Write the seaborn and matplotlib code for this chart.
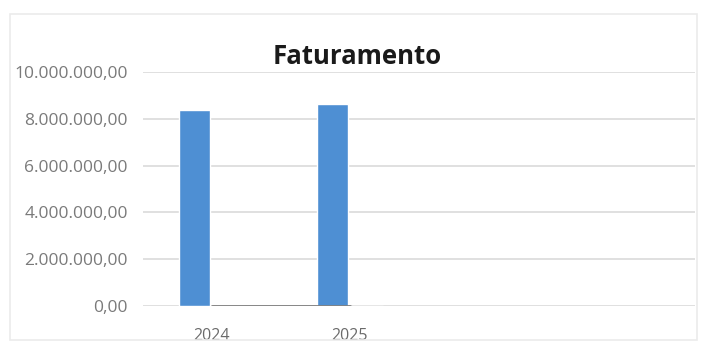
import numpy as np
import pandas as pd
import matplotlib
matplotlib.use("Agg")
import matplotlib.pyplot as plt
import seaborn as sns
from matplotlib.ticker import FuncFormatter, FixedLocator

# Data
categories = ["2024", "2025", " ", "  "]
faturamento = [8385000, 8630000, np.nan, np.nan]
serie2 = [0, 0, np.nan, np.nan]
serie3 = [0, 0]
y_ticks = [0, 2_000_000, 4_000_000, 6_000_000, 8_000_000, 10_000_000]

sns.set_theme(style="white")
plt.rcParams["font.family"] = ["Open Sans", "DejaVu Sans"]

df = pd.DataFrame({
    "ano": categories * 2,
    "valor": faturamento + serie2,
    "serie": ["Faturamento"] * len(categories) + ["Série 2"] * len(categories),
})

fig = plt.figure(figsize=(7.01, 3.45), dpi=100)
ax = fig.add_axes([143 / 701, 1 - 306 / 345, (695 - 143) / 701, (306 - 72) / 345])

sns.barplot(data=df, x="ano", y="valor", hue="serie", order=categories,
            palette=["#4E8FD3", "#ED7D31"], width=0.5, gap=0.1, dodge=True,
            saturation=1, legend=False, ax=ax, errorbar=None)
sns.lineplot(x=np.arange(len(serie3)), y=serie3, color="#7F7F7F",
             linewidth=2.0, ax=ax, zorder=3)

ax.set_xlim(-0.5, len(categories) - 0.5)
ax.set_ylim(0, 10_000_000)
ax.yaxis.set_major_locator(FixedLocator(y_ticks))

def fmt_br(v, _pos):
    s = f"{v:,.2f}"
    return s.replace(",", "X").replace(".", ",").replace("X", ".")

ax.yaxis.set_major_formatter(FuncFormatter(fmt_br))
ax.grid(axis="y", color="#DADADA", linewidth=1.2)
ax.set_axisbelow(True)
for s in ax.spines.values():
    s.set_visible(False)
ax.set_xlabel("")
ax.set_ylabel("")
ax.tick_params(axis="y", labelsize=12.5, colors="#7A7A7A", length=0, pad=11)
ax.tick_params(axis="x", labelsize=11.5, colors="#6A6A6A", length=0, pad=16)
ax.set_xticks(range(len(categories)))
ax.set_xticklabels(categories)

fig.text(357 / 701, 1 - 57 / 345, "Faturamento", ha="center", va="center",
         fontsize=18.5, fontweight="bold", color="#1A1A1A")

# chart border
border = plt.Rectangle((10 / 701, 1 - 340 / 345), (697 - 10) / 701, (340 - 14) / 345,
                       transform=fig.transFigure, fill=False, edgecolor="#EBEBEB",
                       linewidth=1.2)
fig.add_artist(border)

fig.savefig("out.png", dpi=100)
